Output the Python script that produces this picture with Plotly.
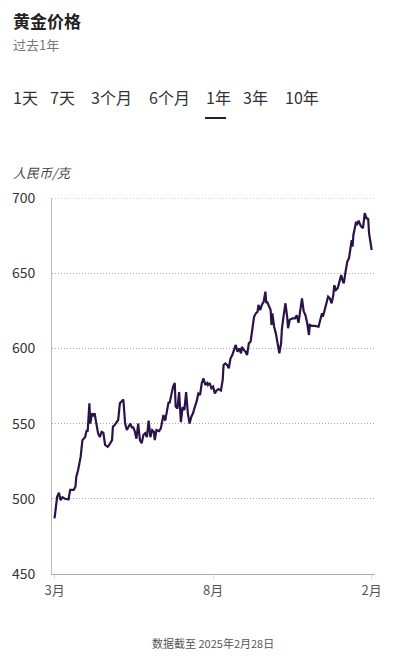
import plotly.graph_objects as go

dates = [
    "2024-03-01", "2024-03-04", "2024-03-06", "2024-03-08", "2024-03-10", "2024-03-13", "2024-03-17",
    "2024-03-19", "2024-03-23", "2024-03-25", "2024-03-26", "2024-03-28", "2024-03-31", "2024-04-02",
    "2024-04-05", "2024-04-07", "2024-04-08", "2024-04-10", "2024-04-11", "2024-04-13", "2024-04-15",
    "2024-04-16", "2024-04-18", "2024-04-20", "2024-04-22", "2024-04-24", "2024-04-26", "2024-04-28",
    "2024-05-01", "2024-05-03", "2024-05-06", "2024-05-07", "2024-05-09", "2024-05-11", "2024-05-13",
    "2024-05-15", "2024-05-17", "2024-05-19", "2024-05-21", "2024-05-23", "2024-05-27", "2024-05-29",
    "2024-05-30", "2024-06-01", "2024-06-03", "2024-06-05", "2024-06-07", "2024-06-09", "2024-06-11",
    "2024-06-13", "2024-06-15", "2024-06-17", "2024-06-19", "2024-06-21", "2024-06-23", "2024-06-24",
    "2024-06-26", "2024-06-29", "2024-07-01", "2024-07-04", "2024-07-06", "2024-07-08", "2024-07-10",
    "2024-07-11", "2024-07-13", "2024-07-15", "2024-07-17", "2024-07-18", "2024-07-20", "2024-07-22",
    "2024-07-24", "2024-07-26", "2024-07-28", "2024-07-30", "2024-08-01", "2024-08-03", "2024-08-05",
    "2024-08-07", "2024-08-09", "2024-08-11", "2024-08-13", "2024-08-15", "2024-08-17", "2024-08-19",
    "2024-08-21", "2024-08-23", "2024-08-24", "2024-08-26", "2024-08-28", "2024-08-30", "2024-09-01",
    "2024-09-03", "2024-09-05", "2024-09-08", "2024-09-10", "2024-09-11", "2024-09-13", "2024-09-15",
    "2024-09-17", "2024-09-19", "2024-09-21", "2024-09-23", "2024-09-25", "2024-09-27", "2024-09-29",
    "2024-10-01", "2024-10-02", "2024-10-04", "2024-10-06", "2024-10-08", "2024-10-10", "2024-10-12",
    "2024-10-14", "2024-10-16", "2024-10-18", "2024-10-20", "2024-10-21", "2024-10-23", "2024-10-25",
    "2024-10-27", "2024-10-29", "2024-10-30", "2024-10-31", "2024-11-02", "2024-11-04", "2024-11-05",
    "2024-11-06", "2024-11-08", "2024-11-10", "2024-11-12", "2024-11-14", "2024-11-16", "2024-11-17",
    "2024-11-19", "2024-11-21", "2024-11-23", "2024-11-24", "2024-11-26", "2024-11-29", "2024-12-02",
    "2024-12-04", "2024-12-06", "2024-12-08", "2024-12-10", "2024-12-12", "2024-12-14", "2024-12-16",
    "2024-12-18", "2024-12-19", "2024-12-21", "2024-12-25", "2024-12-29", "2024-12-31", "2025-01-02",
    "2025-01-03", "2025-01-05", "2025-01-07", "2025-01-09", "2025-01-11", "2025-01-13", "2025-01-15",
    "2025-01-16", "2025-01-18", "2025-01-20", "2025-01-22", "2025-01-24", "2025-01-26", "2025-01-27",
    "2025-01-29", "2025-01-31", "2025-02-02", "2025-02-04", "2025-02-05", "2025-02-06", "2025-02-07",
    "2025-02-09", "2025-02-10", "2025-02-11", "2025-02-13", "2025-02-15", "2025-02-16", "2025-02-18",
    "2025-02-19", "2025-02-20", "2025-02-22", "2025-02-23", "2025-02-24", "2025-02-25", "2025-02-28",
]

prices = [
    487, 501.4, 504, 499, 501, 500, 499.5,
    506, 506, 508, 514.7, 519, 528, 539,
    541, 545.7, 544.6, 563.5, 550, 556.8, 555,
    557, 550, 543.5, 541, 544.6, 544, 535.8,
    534.6, 536, 539, 548, 549, 551, 552.4,
    563.5, 564.6, 566, 550, 545.7, 550, 547,
    548, 545, 540, 550, 539, 537, 542.4,
    543.6, 541, 552, 541, 545.7, 544.6, 539,
    545.7, 545, 546.8, 555.7, 552, 558, 564.6,
    563.5, 570, 574.5, 577, 561.3, 560, 571,
    551, 561, 559, 571, 556.8, 550, 554.6,
    557, 561, 564.6, 570, 569, 577, 580,
    575.7, 577, 575.7, 577, 573.5, 574.6, 570,
    572, 573, 572, 579, 589, 590, 589,
    586.8, 593.4, 595.6, 599, 602.3, 597.8, 600,
    596.7, 601, 599, 598, 595.6, 603.4, 604.5,
    614.4, 621, 623.3, 624.4, 629, 625.5, 629,
    631, 637.7, 630, 631, 627.7, 625.5, 615.6,
    623.3, 614.4, 610, 603.4, 596.7, 603.4, 613.4,
    622, 630, 621, 613.4, 619, 620, 620,
    622, 617, 625.5, 633.3, 624.5, 622, 616.7,
    608.9, 615.6, 615, 615, 614.4, 619, 623.3,
    621, 625.5, 629, 634.4, 633.3, 630, 635.5,
    642, 638.8, 640, 644.4, 648.8, 644.4, 643.3,
    651, 657.7, 660, 667.6, 672, 667.6, 675.4,
    681, 684.2, 682, 685, 682, 681, 680,
    687.6, 690, 686.5, 686.5, 686, 676.5, 665.4,
]

y_ticks = [450, 500, 550, 600, 650, 700]
x_tick_dates = ["2024-03-01", "2024-08-30", "2025-02-28"]
x_tick_labels = ["3月", "8月", "2月"]
tabs = ["1天", "7天", "3个月", "6个月", "1年", "3年", "10年"]

W, H = 412, 658
L, R, T, B = 52, 375, 198, 574
FONT = "Noto Sans CJK SC"
GRID_COLOR = "#a8a8a8"
GRID_DASH = "1px,2px"


def px(x):
    return (x - L) / (R - L)


def py(y):
    return (B - y) / (B - T)


fig = go.Figure()
fig.add_trace(go.Scatter(
    x=dates, y=prices, mode="lines",
    line=dict(color="#2b1248", width=2.2),
    hoverinfo="skip", showlegend=False,
))

annotations = [
    dict(text="<b>黄金价格</b>", x=px(11), y=py(20), font=dict(size=17, color="#222")),
    dict(text="过去1年", x=px(11), y=py(44), font=dict(size=13, color="#777")),
    dict(text="<i>人民币/克</i>", x=px(11), y=py(172), font=dict(size=13, color="#444")),
]
tab_x = [11, 48, 89, 147, 204, 241, 283]
for t, tx in zip(tabs, tab_x):
    annotations.append(dict(text=t, x=px(tx), y=py(97), font=dict(size=16, color="#333")))
for a in annotations:
    a.update(xref="paper", yref="paper", xanchor="left", yanchor="middle", showarrow=False)
    a["font"]["family"] = FONT
annotations.append(dict(
    text="数据截至 2025年2月28日", x=px(213), y=py(643), xref="paper", yref="paper",
    xanchor="center", yanchor="middle", showarrow=False,
    font=dict(size=11, color="#555", family=FONT),
))

shapes = [
    dict(type="line", xref="paper", yref="paper",
         x0=px(205), x1=px(226), y0=py(118), y1=py(118),
         line=dict(color="#222", width=2)),
    # top gridline (at the edge of the range, which plotly does not draw itself)
    dict(type="line", xref="paper", yref="y", x0=0, x1=1,
         y0=y_ticks[-1], y1=y_ticks[-1],
         line=dict(color=GRID_COLOR, width=1, dash=GRID_DASH), layer="below"),
]

fig.update_layout(
    width=W, height=H,
    margin=dict(l=L, r=W - R, t=T, b=H - B),
    paper_bgcolor="white", plot_bgcolor="white",
    annotations=annotations,
    shapes=shapes,
    xaxis=dict(
        type="date",
        range=["2024-02-27 02:00", "2025-03-03 19:00"],
        tickvals=x_tick_dates, ticktext=x_tick_labels,
        showgrid=False, zeroline=False,
        showline=True, linecolor="#aaa", linewidth=1,
        ticks="outside", ticklen=4, tickcolor="#ddd",
        tickfont=dict(size=13, color="#555", family=FONT),
        fixedrange=True,
    ),
    yaxis=dict(
        range=[450, 700],
        tickvals=y_ticks,
        showgrid=True, gridcolor=GRID_COLOR, griddash=GRID_DASH, gridwidth=1,
        zeroline=False,
        showline=True, linecolor="#bbb", linewidth=1,
        ticks="", ticklabelstandoff=13,
        tickfont=dict(size=14, color="#333", family=FONT),
        fixedrange=True,
    ),
    font=dict(family=FONT),
)

fig.write_html(
    "out.html",
    config={"displayModeBar": False},
    post_script="document.body.style.margin='0';document.body.style.overflow='hidden';",
)
